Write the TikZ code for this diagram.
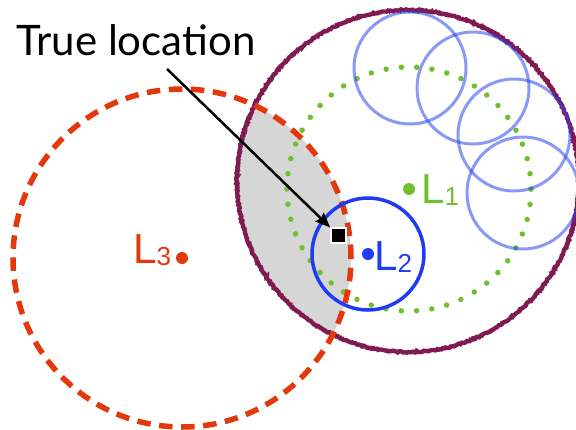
\documentclass[tikz,border=0pt]{standalone}
\usepackage{fontspec}
\setmainfont{Liberation Sans}
\newfontfamily\titlefont{Lato}
\usetikzlibrary{arrows.meta,decorations.pathmorphing}
\definecolor{redc}{RGB}{226,56,12}
\definecolor{maroonc}{RGB}{128,26,82}
\definecolor{greenc}{RGB}{112,192,46}
\definecolor{bluec}{RGB}{30,60,245}
\definecolor{lbluec}{RGB}{40,70,240}
\definecolor{lensgray}{RGB}{214,214,214}
\tikzset{
  redring/.style={redc, line width=5.5pt, dash pattern=on 13.5pt off 8.6pt},
  maroonring/.style={maroonc, line width=4.3pt, decorate,
    decoration={random steps, segment length=1.2pt, amplitude=0.7pt}},
  greenring/.style={greenc, line width=5.5pt, line cap=round, dash pattern=on 0pt off 15.33pt},
  lbluering/.style={lbluec, draw opacity=0.55, line width=3pt},
  bluering/.style={bluec, line width=3.5pt},
  centredot/.style={circle, minimum size=12pt, inner sep=0pt},
  lab/.style={anchor=base west, inner sep=0pt},
}
\newcommand{\Lab}[1]{\fontsize{42}{42}\selectfont L\raisebox{-2pt}{\fontsize{26}{26}\selectfont #1}}
\begin{document}
\begin{tikzpicture}[x=1pt,y=-1pt]
\useasboundingbox (0,0) rectangle (576,429);
\clip (0,0) rectangle (576,429);
\coordinate (c3) at (182,258);
\coordinate (cm) at (408,181);
\coordinate (c1) at (409,189);
\coordinate (c2) at (368,254);
% lens
\begin{scope}
  \clip (c3) circle (169pt);
  \fill[lensgray] (cm) circle (171pt);
\end{scope}
\pgfmathsetseed{7}
\draw[maroonring] (cm) circle (171pt);
\draw[greenring] (c1) circle (122pt);
\draw[redring] (c3) circle (169pt);
\foreach \p in {(410,68),(473,88),(514,135),(523,193)}
  \draw[lbluering] \p circle (56pt);
\draw[bluering] (c2) circle (56pt);
% centres and labels
\node[centredot, fill=redc] (d3) at (c3) {};
\node[centredot, fill=greenc] (d1) at (c1) {};
\node[centredot, fill=bluec] (d2) at (c2) {};
\node[lab, text=redc] (l3) at (133,263) {\Lab{3}};
\node[lab, text=greenc] (l1) at (421,203) {\Lab{1}};
\node[lab, text=bluec] (l2) at (374,270) {\Lab{2}};
% true location
\node[draw=white, fill=black, line width=1.5pt, minimum size=15pt, inner sep=0pt] (truth) at (338.5,235.5) {};
\node[lab, font=\titlefont\fontsize{42}{42}\selectfont] (title) at (16,55) {True location};
\coordinate (as) at (167,69);
\draw[line width=2.5pt, -{Stealth[length=15pt,width=12pt,inset=2pt]}] (as) -- (truth);
\end{tikzpicture}
\end{document}
